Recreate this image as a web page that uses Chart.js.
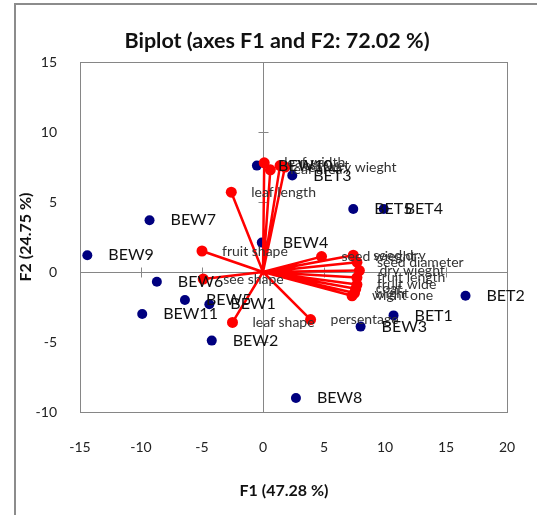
<!DOCTYPE html>
<html lang="en">
<head>
<meta charset="UTF-8" />
<title>Biplot</title>
<script src="https://cdn.jsdelivr.net/npm/chart.js"></script>
<style>
  body { margin: 0; background: #fff; overflow: hidden; }
  canvas { display: block; }
</style>
</head>
<body>
<canvas id="myCanvas" width="537" height="515"></canvas>
<script>
  // observations (blue points)
  const obsNames = ["BEW1", "BEW2", "BEW3", "BEW4", "BEW5", "BEW6", "BEW7", "BEW8", "BEW9", "BEW10", "BEW11",
                    "BET1", "BET2", "BET3", "BET4", "BET5"];
  const obsF1 = [-4.4, -4.2, 8.0, -0.1, -6.4, -8.7, -9.3, 2.7, -14.4, -0.5, -9.9, 10.7, 16.6, 2.4, 9.9, 7.4];
  const obsF2 = [-2.3, -4.9, -3.9, 2.1, -2.0, -0.7, 3.7, -9.0, 1.2, 7.6, -3.0, -3.1, -1.7, 6.9, 4.5, 4.5];

  // variables (red vectors)
  const varNames = ["leaf width", "leaf area", "leaf wet", "leaf dry wieght", "leaf length", "fruit shape",
                    "see shape", "leaf shape", "persentage", "seed wieght", "seed dry", "seed diameter",
                    "dry wieght", "fruit length", "fruit wide", "wight", "wight one", "coat"];
  const varF1 = [0.1, 0.6, 1.4, 1.8, -2.6, -5.0, -4.9, -2.5, 3.9, 4.8, 7.4, 7.7, 7.9, 7.7, 7.7, 7.5, 7.3, 7.6];
  const varF2 = [7.8, 7.3, 7.6, 7.5, 5.7, 1.5, -0.5, -3.6, -3.4, 1.1, 1.2, 0.7, 0.1, -0.4, -0.9, -1.5, -1.7, -1.2];

  const xTicks = [-15, -10, -5, 0, 5, 10, 15, 20];
  const yTicks = [-10, -5, 0, 5, 10, 15];

  const titleText = "Biplot (axes F1 and F2: 72.02 %)";
  const xTitle = "F1 (47.28 %)";
  const yTitle = "F2 (24.75 %)";

  const FONT = "Lato, 'Open Sans', sans-serif";
  const GREY = "#868686";

  // points for the vectors: origin -> variable -> origin -> ...
  let vecData = [];
  for (let i = 0; i < varNames.length; i++) {
    vecData.push({ x: 0, y: 0 });
    vecData.push({ x: varF1[i], y: varF2[i] });
  }
  let obsData = obsNames.map((n, i) => ({ x: obsF1[i], y: obsF2[i] }));

  const decor = {
    id: "decor",
    beforeDraw(chart) {
      const ctx = chart.ctx;
      const a = chart.chartArea;
      const sx = chart.scales.x, sy = chart.scales.y;
      ctx.save();
      ctx.fillStyle = "#fff";
      ctx.fillRect(0, 0, chart.width, chart.height);
      // outer frame (only left and top visible)
      ctx.fillStyle = "#8c8c8c";
      ctx.fillRect(14, 3, 2, chart.height);
      ctx.fillRect(14, 3, chart.width, 2);
      // plot frame
      ctx.strokeStyle = GREY;
      ctx.lineWidth = 1;
      ctx.strokeRect(a.left + 0.5, a.top + 0.5, a.right - a.left, a.bottom - a.top);
      // axes through zero with cross ticks
      const x0 = Math.round(sx.getPixelForValue(0)) + 0.5;
      const y0 = Math.round(sy.getPixelForValue(0)) + 0.5;
      ctx.beginPath();
      ctx.moveTo(a.left, y0); ctx.lineTo(a.right, y0);
      ctx.moveTo(x0, a.top); ctx.lineTo(x0, a.bottom);
      xTicks.forEach(v => {
        const px = Math.round(sx.getPixelForValue(v)) + 0.5;
        ctx.moveTo(px, y0 - 5); ctx.lineTo(px, y0 + 5);
      });
      yTicks.forEach(v => {
        const py = Math.round(sy.getPixelForValue(v)) + 0.5;
        ctx.moveTo(x0 - 5, py); ctx.lineTo(x0 + 5, py);
      });
      ctx.stroke();
      // chart title and x axis title
      ctx.fillStyle = "#111";
      ctx.textAlign = "center";
      ctx.textBaseline = "middle";
      ctx.font = "bold 21.5px " + FONT;
      ctx.fillText(titleText, 277, 41);
      ctx.font = "bold 16px " + FONT;
      ctx.fillText(xTitle, 284, 491);
      ctx.restore();
    },
    afterDatasetsDraw(chart) {
      const ctx = chart.ctx;
      ctx.save();
      ctx.textAlign = "left";
      ctx.textBaseline = "middle";
      // variable labels
      ctx.font = "14px " + FONT;
      ctx.fillStyle = "#333";
      chart.getDatasetMeta(0).data.forEach((el, i) => {
        if (i % 2 === 1) ctx.fillText(varNames[(i - 1) / 2], el.x + 20, el.y);
      });
      // observation labels
      ctx.font = "16px " + FONT;
      ctx.fillStyle = "#111";
      chart.getDatasetMeta(1).data.forEach((el, i) => {
        ctx.fillText(obsNames[i], el.x + 21, el.y);
      });
      ctx.restore();
    }
  };

  const config = {
    type: "scatter",
    data: {
      datasets: [
        {
          label: "Variables",
          data: vecData,
          showLine: true,
          borderColor: "#ff0000",
          borderWidth: 2.5,
          backgroundColor: "#ff0000",
          pointBorderWidth: 0,
          pointRadius: (c) => (c.dataIndex % 2 === 1 ? 5.5 : 0),
          order: 0,
        },
        {
          label: "Observations",
          data: obsData,
          backgroundColor: "#00007f",
          borderColor: "#00007f",
          pointBorderWidth: 0,
          pointRadius: 5,
          order: 1,
        },
      ],
    },
    options: {
      responsive: false,
      animation: false,
      layout: { padding: { top: 62, left: 15, right: 30, bottom: 0 } },
      plugins: {
        legend: { display: false },
        tooltip: { enabled: false },
      },
      scales: {
        x: {
          type: "linear",
          min: xTicks[0],
          max: xTicks[xTicks.length - 1],
          afterBuildTicks: (s) => { s.ticks = xTicks.map(v => ({ value: v })); },
          afterFit: (s) => { s.height = 103; s.paddingLeft = 0; s.paddingRight = 0; },
          grid: { display: false, drawTicks: false },
          border: { display: false },
          ticks: { color: "#222", font: { family: FONT, size: 14 }, padding: 27 },
          title: { display: false },
        },
        y: {
          type: "linear",
          min: yTicks[0],
          max: yTicks[yTicks.length - 1],
          afterBuildTicks: (s) => { s.ticks = yTicks.map(v => ({ value: v })); },
          afterFit: (s) => { s.width = 65; s.paddingTop = 0; s.paddingBottom = 0; },
          grid: { display: false, drawTicks: false },
          border: { display: false },
          ticks: { color: "#222", font: { family: FONT, size: 14 }, padding: 23 },
          title: { display: true, text: yTitle, color: "#111", font: { family: FONT, size: 16, weight: "bold" }, padding: { top: 1 } },
        },
      },
    },
    plugins: [decor],
  };

  let myChart = new Chart(document.getElementById("myCanvas"), config);
</script>
</body>
</html>
